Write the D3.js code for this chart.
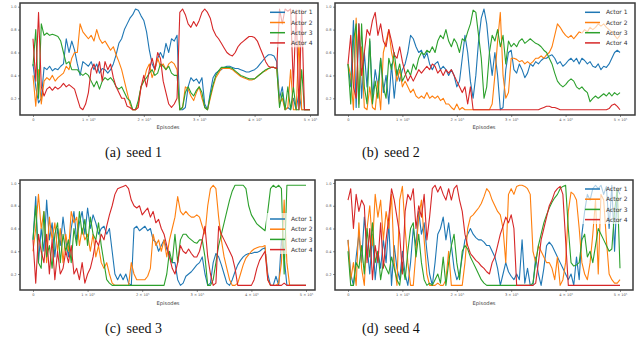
<!DOCTYPE html>
<html><head><meta charset="utf-8">
<script src="https://cdn.jsdelivr.net/npm/d3@7"></script>
<style>body{margin:0;background:#fff}svg{display:block}</style>
</head><body>
<svg id="chart" width="640" height="348"></svg>
<script>
// ---------- DATA ----------
const actors = ["Actor 1", "Actor 2", "Actor 3", "Actor 4"];
const seedLabels = ["seed 1", "seed 2", "seed 3", "seed 4"];
const panelLetters = ["(a)", "(b)", "(c)", "(d)"];
const xTickValues = [0, 100000, 200000, 300000, 400000, 500000];
const xTickLabels = ["0", "1 × 10⁵", "2 × 10⁵", "3 × 10⁵", "4 × 10⁵", "5 × 10⁵"];
const yTickValues = [0.2, 0.4, 0.6, 0.8, 1.0];
const yTickLabels = ["0.2", "0.4", "0.6", "0.8", "1.0"];
const episodeStep = 5000;

const seed1_actor1 = [0.5,0.3,0.16,0.2,0.47,0.45,0.48,0.44,0.46,0.45,
 0.48,0.5,0.72,0.6,0.7,0.62,0.5,0.4,0.52,0.5,
 0.48,0.52,0.45,0.5,0.42,0.46,0.45,0.42,0.45,0.5,
 0.58,0.68,0.72,0.8,0.85,0.9,0.93,0.98,0.97,0.92,
 0.88,0.78,0.62,0.5,0.45,0.55,0.6,0.55,0.68,0.6,
 0.72,0.7,0.75,0.1,0.1,0.12,0.3,0.38,0.35,0.37,
 0.33,0.38,0.15,0.1,0.25,0.38,0.42,0.44,0.45,0.47,
 0.48,0.48,0.47,0.46,0.46,0.45,0.44,0.43,0.43,0.44,
 0.45,0.47,0.5,0.53,0.56,0.58,0.58,0.57,0.52,0.2,
 0.3,0.1,0.12,0.1,0.2,0.1,0.25,0.1,0.1,0.1,
 0.1];
const seed1_actor2 = [0.4,0.13,0.45,0.15,0.35,0.38,0.36,0.4,0.35,0.38,
 0.4,0.42,0.48,0.45,0.55,0.6,0.6,0.85,0.78,0.75,
 0.72,0.75,0.7,0.8,0.72,0.68,0.7,0.66,0.62,0.65,
 0.58,0.52,0.45,0.35,0.25,0.15,0.1,0.1,0.15,0.3,
 0.35,0.45,0.5,0.38,0.45,0.55,0.48,0.5,0.45,0.5,
 0.52,0.5,0.45,0.1,0.12,0.3,0.28,0.22,0.18,0.25,
 0.3,0.2,0.12,0.1,0.2,0.3,0.38,0.42,0.46,0.46,
 0.46,0.46,0.45,0.43,0.41,0.39,0.38,0.37,0.36,0.36,
 0.37,0.39,0.41,0.43,0.44,0.46,0.47,0.47,0.46,0.15,
 0.2,0.1,0.12,0.45,0.1,0.1,0.7,0.1,0.1,0.1,
 0.1];
const seed1_actor3 = [0.48,0.8,0.2,0.85,0.75,0.77,0.75,0.76,0.75,0.74,
 0.7,0.6,0.5,0.52,0.45,0.45,0.45,0.42,0.4,0.42,
 0.4,0.35,0.3,0.35,0.28,0.35,0.38,0.36,0.38,0.35,
 0.3,0.28,0.3,0.25,0.2,0.18,0.1,0.1,0.18,0.3,
 0.35,0.38,0.42,0.45,0.4,0.42,0.5,0.48,0.45,0.48,
 0.42,0.4,0.4,0.1,0.12,0.25,0.3,0.25,0.22,0.27,
 0.3,0.25,0.12,0.1,0.22,0.32,0.4,0.44,0.47,0.47,
 0.47,0.47,0.46,0.44,0.42,0.4,0.39,0.38,0.37,0.37,
 0.37,0.39,0.41,0.43,0.45,0.46,0.47,0.47,0.46,0.12,
 0.25,0.1,0.3,0.1,0.3,0.1,0.1,0.45,0.1,0.1,
 0.1];
const seed1_actor4 = [0.72,0.35,0.95,0.3,0.22,0.28,0.3,0.27,0.3,0.28,
 0.3,0.33,0.3,0.32,0.3,0.28,0.2,0.12,0.1,0.15,
 0.25,0.45,0.5,0.42,0.52,0.35,0.52,0.45,0.5,0.38,
 0.3,0.25,0.2,0.2,0.13,0.12,0.1,0.1,0.12,0.3,
 0.4,0.3,0.45,0.55,0.45,0.6,0.55,0.35,0.25,0.15,
 0.12,0.15,0.2,0.95,0.98,0.93,0.85,0.82,0.87,0.83,
 0.88,0.95,0.98,0.95,0.9,0.8,0.75,0.72,0.68,0.64,
 0.6,0.58,0.57,0.6,0.65,0.68,0.7,0.72,0.74,0.74,
 0.73,0.7,0.64,0.58,0.52,0.48,0.47,0.47,0.46,0.98,
 0.85,0.98,0.96,0.98,0.3,0.97,0.1,0.97,0.1,0.1,
 0.1];

const seed2_actor1 = [0.5,0.3,0.88,0.12,0.85,0.2,0.6,0.3,0.7,0.2,
 0.45,0.3,0.55,0.25,0.4,0.15,0.5,0.2,0.45,0.35,
 0.45,0.5,0.6,0.75,0.72,0.65,0.6,0.62,0.55,0.6,
 0.5,0.45,0.5,0.52,0.45,0.48,0.45,0.4,0.45,0.4,
 0.3,0.35,0.55,0.75,0.6,0.35,0.2,0.4,0.7,0.9,
 0.98,0.85,0.6,0.4,0.6,0.4,0.1,0.12,0.45,0.6,
 0.62,0.45,0.42,0.5,0.45,0.38,0.42,0.5,0.48,0.52,
 0.5,0.53,0.55,0.55,0.57,0.58,0.55,0.5,0.52,0.48,
 0.5,0.53,0.55,0.52,0.55,0.5,0.55,0.53,0.5,0.52,
 0.48,0.47,0.5,0.45,0.48,0.47,0.5,0.55,0.6,0.62,
 0.6];
const seed2_actor2 = [0.5,0.4,0.1,0.9,0.15,0.65,0.12,0.1,0.3,0.12,
 0.1,0.35,0.1,0.6,0.7,0.8,0.6,0.5,0.35,0.45,
 0.3,0.35,0.3,0.25,0.28,0.22,0.2,0.22,0.2,0.25,
 0.2,0.22,0.2,0.22,0.18,0.2,0.15,0.15,0.12,0.1,
 0.15,0.1,0.12,0.1,0.1,0.1,0.1,0.1,0.1,0.1,
 0.1,0.1,0.1,0.15,0.4,0.7,0.95,0.4,0.2,0.25,
 0.55,0.55,0.54,0.52,0.53,0.5,0.52,0.5,0.52,0.55,
 0.55,0.57,0.55,0.58,0.6,0.65,0.75,0.85,0.82,0.78,
 0.75,0.73,0.75,0.72,0.75,0.78,0.77,0.8,0.78,0.82,
 0.8,0.82,0.85,0.83,0.85,0.82,0.8,0.78,0.75,0.72,
 0.75];
const seed2_actor3 = [0.5,0.15,0.7,0.85,0.12,0.85,0.3,0.15,0.72,0.15,
 0.35,0.2,0.55,0.3,0.2,0.55,0.45,0.6,0.4,0.5,
 0.35,0.4,0.45,0.4,0.5,0.45,0.55,0.6,0.58,0.62,
 0.6,0.65,0.6,0.7,0.75,0.72,0.8,0.7,0.65,0.72,
 0.68,0.6,0.72,0.7,0.78,0.85,0.97,0.95,0.75,0.55,
 0.2,0.3,0.6,0.75,0.7,0.8,0.65,0.75,0.5,0.7,
 0.65,0.68,0.65,0.7,0.72,0.68,0.7,0.72,0.7,0.68,
 0.67,0.65,0.62,0.6,0.55,0.5,0.42,0.35,0.32,0.3,
 0.32,0.35,0.37,0.35,0.3,0.28,0.3,0.27,0.25,0.17,
 0.2,0.22,0.2,0.22,0.24,0.22,0.25,0.22,0.25,0.23,
 0.25];
const seed2_actor4 = [0.5,0.75,0.3,0.2,0.85,0.4,0.6,0.8,0.75,0.88,
 0.95,0.75,0.85,0.7,0.65,0.8,0.7,0.58,0.55,0.65,
 0.52,0.42,0.35,0.4,0.35,0.4,0.45,0.42,0.45,0.48,
 0.45,0.5,0.48,0.42,0.45,0.4,0.45,0.42,0.45,0.4,
 0.35,0.3,0.25,0.3,0.15,0.3,0.1,0.1,0.1,0.1,
 0.1,0.1,0.1,0.1,0.1,0.1,0.1,0.1,0.1,0.1,
 0.1,0.1,0.1,0.1,0.1,0.1,0.1,0.1,0.1,0.1,
 0.1,0.11,0.12,0.13,0.13,0.12,0.12,0.11,0.1,0.1,
 0.1,0.1,0.1,0.1,0.1,0.1,0.1,0.1,0.1,0.1,
 0.1,0.1,0.1,0.1,0.1,0.1,0.11,0.14,0.15,0.13,
 0.1];

const seed3_actor1 = [0.5,0.88,0.3,0.6,0.4,0.85,0.5,0.65,0.35,0.6,
 0.45,0.7,0.5,0.35,0.6,0.75,0.5,0.65,0.75,0.55,
 0.78,0.6,0.72,0.65,0.55,0.6,0.62,0.55,0.6,0.4,
 0.2,0.15,0.2,0.15,0.2,0.12,0.1,0.6,0.62,0.58,
 0.6,0.62,0.58,0.6,0.5,0.48,0.4,0.45,0.5,0.42,
 0.35,0.3,0.3,0.15,0.1,0.12,0.18,0.2,0.22,0.25,
 0.28,0.3,0.35,0.2,0.1,0.12,0.3,0.38,0.35,0.28,
 0.2,0.12,0.1,0.15,0.22,0.28,0.32,0.35,0.37,0.38,
 0.38,0.39,0.39,0.4,0.42,0.43,0.2,0.1,0.1,0.18,
 0.1,0.5,0.35,0.1,0.1,0.1,0.1,0.1,0.1,0.1,
 0.1];
const seed3_actor2 = [0.4,0.6,0.9,0.6,0.75,0.3,0.7,0.5,0.65,0.4,
 0.6,0.3,0.55,0.4,0.75,0.65,0.7,0.45,0.6,0.5,
 0.55,0.4,0.55,0.35,0.45,0.3,0.25,0.3,0.2,0.12,
 0.1,0.1,0.1,0.1,0.1,0.1,0.3,0.2,0.15,0.15,
 0.15,0.15,0.18,0.25,0.55,0.45,0.5,0.4,0.5,0.35,
 0.5,0.6,0.7,0.88,0.75,0.72,0.75,0.72,0.7,0.7,
 0.72,0.7,0.62,0.55,0.8,0.95,0.98,0.95,0.7,0.5,
 0.35,0.25,0.15,0.1,0.1,0.12,0.2,0.28,0.34,0.37,
 0.4,0.42,0.43,0.44,0.44,0.45,0.15,0.1,0.1,0.1,
 0.12,0.3,0.85,0.3,0.1,0.1,0.1,0.1,0.1,0.1,
 0.1];
const seed3_actor3 = [0.5,0.8,0.3,0.25,0.75,0.35,0.45,0.25,0.55,0.65,
 0.3,0.55,0.4,0.5,0.3,0.6,0.45,0.75,0.55,0.68,
 0.45,0.7,0.55,0.5,0.65,0.45,0.3,0.15,0.12,0.1,
 0.1,0.1,0.1,0.1,0.1,0.1,0.1,0.1,0.1,0.1,
 0.1,0.1,0.1,0.1,0.1,0.1,0.1,0.1,0.1,0.2,
 0.4,0.3,0.55,0.3,0.5,0.55,0.55,0.52,0.5,0.48,
 0.47,0.5,0.5,0.35,0.1,0.1,0.15,0.3,0.45,0.55,
 0.65,0.75,0.85,0.93,0.98,0.98,0.98,0.98,0.95,0.8,
 0.72,0.68,0.64,0.62,0.6,0.58,0.75,0.95,0.98,0.96,
 0.98,0.95,0.2,0.98,0.98,0.98,0.98,0.98,0.98,0.98,
 0.98];
const seed3_actor4 = [0.5,0.12,0.55,0.4,0.3,0.55,0.2,0.5,0.15,0.4,
 0.2,0.25,0.4,0.3,0.45,0.2,0.25,0.15,0.3,0.12,
 0.2,0.25,0.35,0.5,0.45,0.55,0.5,0.62,0.72,0.8,
 0.9,0.95,0.96,0.97,0.98,0.95,0.85,0.8,0.78,0.8,
 0.72,0.75,0.78,0.7,0.75,0.65,0.68,0.6,0.55,0.45,
 0.35,0.25,0.2,0.3,0.45,0.4,0.38,0.42,0.38,0.35,
 0.35,0.4,0.5,0.62,0.35,0.2,0.1,0.12,0.62,0.55,
 0.5,0.45,0.4,0.35,0.25,0.1,0.1,0.1,0.1,0.1,
 0.1,0.15,0.25,0.32,0.36,0.4,0.15,0.1,0.1,0.1,
 0.1,0.1,0.12,0.1,0.1,0.1,0.1,0.1,0.1,0.1,
 0.1];

const seed4_actor1 = [0.5,0.2,0.1,0.35,0.55,0.3,0.7,0.45,0.2,0.55,
 0.15,0.4,0.25,0.5,0.3,0.65,0.1,0.45,0.25,0.15,
 0.4,0.2,0.1,0.3,0.6,0.45,0.75,0.55,0.65,0.4,
 0.2,0.1,0.3,0.55,0.6,0.7,0.5,0.65,0.45,0.25,
 0.15,0.2,0.35,0.5,0.55,0.6,0.55,0.52,0.5,0.5,
 0.48,0.45,0.45,0.4,0.35,0.25,0.1,0.2,0.3,0.22,
 0.18,0.15,0.2,0.15,0.5,0.12,0.25,0.1,0.1,0.35,
 0.2,0.1,0.25,0.45,0.48,0.45,0.4,0.35,0.3,0.25,
 0.2,0.15,0.2,0.1,0.35,0.15,0.55,0.75,0.9,0.85,
 0.95,0.98,0.95,0.98,0.9,0.97,0.6,0.98,0.4,0.95,
 0.9];
const seed4_actor2 = [0.5,0.15,0.3,0.1,0.65,0.25,0.1,0.6,0.8,0.45,
 0.9,0.7,0.85,0.5,0.75,0.6,0.9,0.3,0.1,0.85,
 0.97,0.6,0.3,0.1,0.1,0.4,0.7,0.85,0.5,0.2,
 0.1,0.1,0.1,0.12,0.1,0.1,0.15,0.4,0.1,0.1,
 0.1,0.1,0.1,0.3,0.6,0.7,0.72,0.75,0.78,0.82,
 0.88,0.95,0.92,0.85,0.8,0.75,0.72,0.6,0.3,0.9,
 0.95,0.9,0.97,0.98,0.98,0.97,0.95,0.9,0.4,0.3,
 0.45,0.4,0.35,0.3,0.3,0.25,0.15,0.35,0.1,0.15,
 0.3,0.75,0.92,0.9,0.85,0.6,0.3,0.2,0.15,0.3,
 0.55,0.85,0.2,0.9,0.85,0.5,0.2,0.15,0.12,0.12,
 0.15];
const seed4_actor3 = [0.4,0.1,0.1,0.3,0.25,0.45,0.2,0.6,0.35,0.65,
 0.3,0.4,0.15,0.3,0.25,0.2,0.35,0.25,0.15,0.1,
 0.3,0.15,0.4,0.6,0.65,0.35,0.55,0.3,0.15,0.1,
 0.12,0.1,0.15,0.2,0.12,0.35,0.1,0.3,0.45,0.55,
 0.3,0.15,0.4,0.45,0.42,0.35,0.3,0.25,0.2,0.15,
 0.12,0.1,0.1,0.1,0.1,0.1,0.1,0.1,0.1,0.1,
 0.1,0.1,0.1,0.1,0.1,0.1,0.1,0.1,0.12,0.3,
 0.45,0.55,0.65,0.72,0.78,0.83,0.87,0.9,0.95,0.97,
 0.98,0.6,0.3,0.27,0.28,0.3,0.5,0.55,0.35,0.4,
 0.3,0.45,0.6,0.55,0.5,0.45,0.4,0.42,0.75,0.95,
 0.25];
const seed4_actor4 = [0.85,0.95,0.6,0.9,0.75,0.85,0.8,0.3,0.6,0.15,
 0.45,0.3,0.65,0.25,0.5,0.7,0.95,0.85,0.7,0.55,
 0.2,0.75,0.9,0.85,0.95,0.6,0.8,0.7,0.9,0.5,
 0.7,0.95,0.98,0.92,0.97,0.9,0.85,0.95,0.85,0.95,
 0.98,0.85,0.75,0.55,0.45,0.38,0.35,0.32,0.3,0.27,
 0.25,0.22,0.2,0.3,0.35,0.45,0.55,0.62,0.7,0.65,
 0.72,0.6,0.1,0.1,0.1,0.1,0.1,0.1,0.1,0.12,
 0.3,0.5,0.6,0.7,0.8,0.85,0.92,0.95,0.97,0.9,
 0.5,0.1,0.1,0.1,0.1,0.1,0.1,0.1,0.1,0.1,
 0.1,0.1,0.1,0.1,0.1,0.1,0.1,0.1,0.1,0.1,
 0.1];

const seriesBySeed = [
  [seed1_actor1, seed1_actor2, seed1_actor3, seed1_actor4],
  [seed2_actor1, seed2_actor2, seed2_actor3, seed2_actor4],
  [seed3_actor1, seed3_actor2, seed3_actor3, seed3_actor4],
  [seed4_actor1, seed4_actor2, seed4_actor3, seed4_actor4]
];

// ---------- STYLE / LAYOUT ----------
const colors = ["#1f77b4", "#ff7f0e", "#2ca02c", "#d62728"];
const layout = [
  {frame:{l:20,r:318,t:3,b:115}, x:[33,310], y:[98.3,6.7], leg:{x:270,y:12.3}, cap:{x:105,y:157}, lab:{x:168,y:128.5}},
  {frame:{l:335,r:635,t:3,b:115}, x:[348,620], y:[98.3,6.7], leg:{x:585,y:12.3}, cap:{x:362,y:157}, lab:{x:484,y:128.5}},
  {frame:{l:20,r:315,t:180,b:290}, x:[33,306], y:[274,183], leg:{x:270,y:219}, cap:{x:105,y:333}, lab:{x:168,y:305}},
  {frame:{l:335,r:633,t:180,b:290}, x:[348,620], y:[274,183], leg:{x:585,y:189}, cap:{x:362,y:333}, lab:{x:484,y:305}}
];

const svg = d3.select("#chart");
const defs = svg.append("defs");

layout.forEach((L, p) => {
  const g = svg.append("g");
  const x = d3.scaleLinear().domain([0, 500000]).range(L.x);
  const y = d3.scaleLinear().domain([0.2, 1.0]).range(L.y);
  const f = L.frame;

  defs.append("clipPath").attr("id", "clip" + p)
    .append("rect").attr("x", f.l).attr("y", f.t).attr("width", f.r - f.l).attr("height", f.b - f.t);

  const line = d3.line().x((d, i) => x(i * episodeStep)).y(d => y(d));
  const lines = g.append("g").attr("clip-path", "url(#clip" + p + ")");
  seriesBySeed[p].forEach((s, k) => {
    lines.append("path").datum(s).attr("d", line)
      .attr("fill", "none").attr("stroke", colors[k]).attr("stroke-width", 1.1)
      .attr("stroke-linejoin", "round");
  });

  // legend
  const lg = g.append("g");
  lg.append("rect").attr("x", L.leg.x - 4).attr("y", L.leg.y - 6)
    .attr("width", f.r - 2 - (L.leg.x - 4)).attr("height", 41)
    .attr("fill", "#fff").attr("opacity", 0.65);
  actors.forEach((a, k) => {
    const yy = L.leg.y + k * 10.2;
    lg.append("line").attr("x1", L.leg.x).attr("x2", L.leg.x + 15)
      .attr("y1", yy).attr("y2", yy).attr("stroke", colors[k]).attr("stroke-width", 1.5);
    lg.append("text").attr("x", L.leg.x + 21).attr("y", yy + 2.1)
      .attr("font-family", "DejaVu Sans").attr("font-size", 6).attr("fill", "#333").text(a);
  });

  // axes
  const yAxis = d3.axisLeft(y).tickValues(yTickValues).tickFormat((d, i) => yTickLabels[i]).tickSize(2).tickPadding(1.5);
  const ya = g.append("g").attr("transform", `translate(${f.l},0)`).call(yAxis);
  const xAxis = d3.axisBottom(x).tickValues(xTickValues).tickFormat((d, i) => xTickLabels[i]).tickSize(2).tickPadding(1.5);
  const xa = g.append("g").attr("transform", `translate(0,${f.b})`).call(xAxis);
  [ya, xa].forEach(a => {
    a.select(".domain").remove();
    a.selectAll(".tick line").attr("stroke", "#444").attr("stroke-width", 0.6);
    a.selectAll(".tick text").attr("font-family", "DejaVu Sans").attr("font-size", 3.6).attr("fill", "#555");
  });

  // frame
  g.append("rect").attr("x", f.l).attr("y", f.t).attr("width", f.r - f.l).attr("height", f.b - f.t)
    .attr("fill", "none").attr("stroke", "#3a3a3a").attr("stroke-width", 1.5);

  g.append("text").attr("x", L.lab.x).attr("y", L.lab.y).attr("text-anchor", "middle")
    .attr("font-family", "DejaVu Sans").attr("font-size", 5.2).attr("fill", "#444").text("Episodes");

  const cap = g.append("text").attr("x", L.cap.x).attr("y", L.cap.y)
    .attr("font-family", "Liberation Serif").attr("font-size", 14).attr("fill", "#111");
  cap.append("tspan").text(panelLetters[p]);
  cap.append("tspan").attr("dx", 6).text(seedLabels[p]);
});
</script>
</body></html>
